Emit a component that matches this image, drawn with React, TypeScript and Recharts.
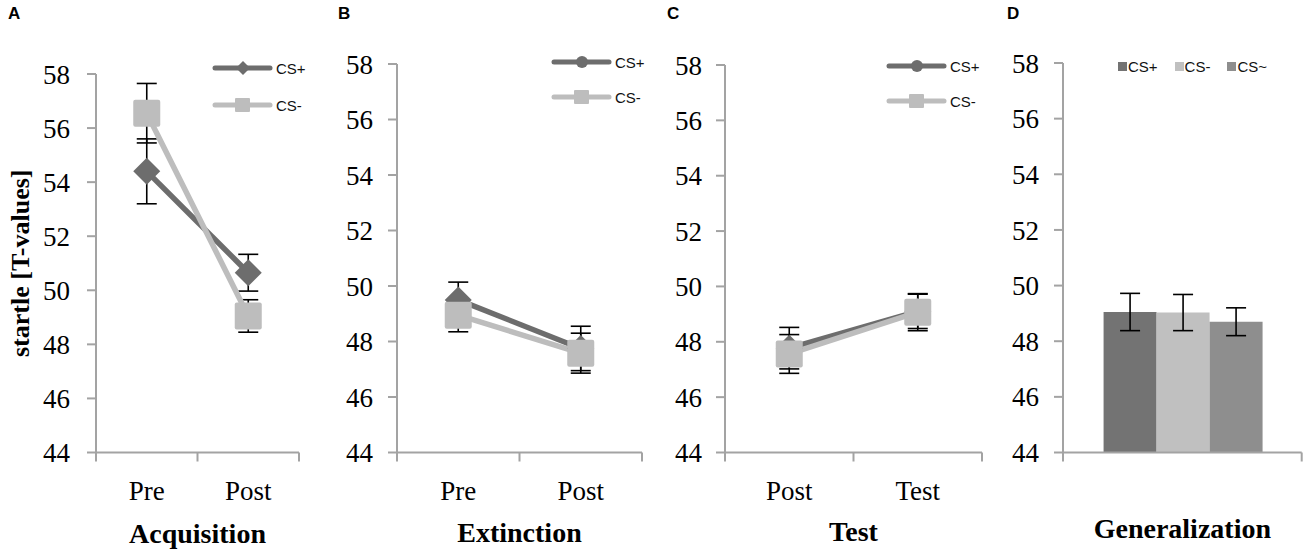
import React from "react";
import {
  LineChart,
  Line,
  BarChart,
  Bar,
  XAxis,
  YAxis,
  ErrorBar,
  Legend,
  Label,
} from "recharts";

// values (startle T-values, mean +/- SEM)
const acqPhases = ["Pre", "Post"];
const acqCsPlus = [54.4, 50.65];
const acqCsPlusErr = [1.2, 0.68];
const acqCsMinus = [56.55, 49.05];
const acqCsMinusErr = [1.1, 0.6];

const extPhases = ["Pre", "Post"];
const extCsPlus = [49.5, 47.75];
const extCsPlusErr = [0.64, 0.8];
const extCsMinus = [48.95, 47.58];
const extCsMinusErr = [0.6, 0.72];

const testPhases = ["Post", "Test"];
const testCsPlus = [47.77, 49.1];
const testCsPlusErr = [0.75, 0.62];
const testCsMinus = [47.56, 49.07];
const testCsMinusErr = [0.7, 0.67];

const genStimuli = ["CS+", "CS-", "CS~"];
const genMeans = [49.05, 49.03, 48.7];
const genErr = [0.67, 0.65, 0.5];

const yTicks = [44, 46, 48, 50, 52, 54, 56, 58];

const SERIF = '"Liberation Serif", "Times New Roman", serif';
const SANS = '"Liberation Sans", Arial, sans-serif';
const AXIS = "#a3a3a3";
const DARK = "#6d6d6d";
const LIGHT = "#bdbdbd";
const barColors = ["#737373", "#c0c0c0", "#8e8e8e"];
const TICK_GAP = 28;

const diamondDot = (props: any) => {
  const { cx, cy, index } = props;
  if (cx == null || cy == null) return null;
  const r = 13.5;
  return (
    <path
      key={`dia-${index}`}
      d={`M${cx},${cy - r}L${cx + r},${cy}L${cx},${cy + r}L${cx - r},${cy}Z`}
      fill={DARK}
    />
  );
};

const squareDot = (props: any) => {
  const { cx, cy, index } = props;
  if (cx == null || cy == null) return null;
  return <rect key={`sq-${index}`} x={cx - 13.5} y={cy - 13.5} width={27} height={27} rx={2} fill={LIGHT} />;
};

// category label plus Excel-style tick marks on the category boundaries
const makeCatTick = (showLabel: boolean) => (props: any) => {
  const { x, y, payload, index, visibleTicksCount, width } = props;
  const half = width / visibleTicksCount / 2;
  const axisY = y - TICK_GAP;
  return (
    <g>
      <line x1={x - half} x2={x - half} y1={axisY} y2={axisY + 9} stroke={AXIS} strokeWidth={2} />
      {index === visibleTicksCount - 1 ? (
        <line x1={x + half} x2={x + half} y1={axisY} y2={axisY + 9} stroke={AXIS} strokeWidth={2} />
      ) : null}
      {showLabel ? (
        <text x={x} y={y} dy="0.71em" textAnchor="middle" fontSize={27} fontFamily={SERIF} fill="#000">
          {payload.value}
        </text>
      ) : null}
    </g>
  );
};

function LineLegend({ payload, marker, rowH }: any) {
  return (
    <div>
      {(payload || []).map((p: any) => (
        <div key={p.value} style={{ display: "flex", alignItems: "center", height: rowH }}>
          <svg width={61} height={18}>
            <line x1={3} y1={9} x2={58} y2={9} stroke={p.color} strokeWidth={5} strokeLinecap="round" />
            {p.dataKey === "minus" ? (
              <rect x={23} y={2} width={15} height={14} rx={1} fill={p.color} />
            ) : marker === "diamond" ? (
              <path d="M31,2L38,9L31,16L24,9Z" fill={p.color} />
            ) : (
              <circle cx={31} cy={9} r={6} fill={p.color} />
            )}
          </svg>
          <span style={{ font: `15px ${SANS}`, color: "#111", marginLeft: 3 }}>{p.value}</span>
        </div>
      ))}
    </div>
  );
}

function BarLegend({ payload }: any) {
  return (
    <div style={{ display: "flex", alignItems: "center", height: 18 }}>
      {(payload || []).map((p: any) => (
        <div key={p.value} style={{ display: "flex", alignItems: "center", marginRight: 17 }}>
          <span style={{ width: 9, height: 9, background: p.color, marginRight: 1 }} />
          <span style={{ font: `15px ${SANS}`, color: "#111" }}>{p.value}</span>
        </div>
      ))}
    </div>
  );
}

const yTitle = (props: any) => {
  const vb = props.viewBox || {};
  const cy = (vb.y || 0) + (vb.height || 0) / 2;
  const x = 29;
  return (
    <text
      x={x}
      y={cy}
      transform={`rotate(-90, ${x}, ${cy})`}
      textAnchor="middle"
      fontFamily={SERIF}
      fontWeight="bold"
      fontSize={26}
      fill="#000"
    >
      startle [T-values]
    </text>
  );
};

function LinePanel(p: any) {
  const data = p.phases.map((ph: string, i: number) => ({
    phase: ph,
    plus: p.plus[i],
    plusErr: p.plusErr[i],
    minus: p.minus[i],
    minusErr: p.minusErr[i],
  }));
  return (
    <div style={{ position: "absolute", left: p.left, top: 0 }}>
      <LineChart
        width={p.width}
        height={556}
        data={data}
        margin={{ top: p.top, right: p.marginRight, bottom: 3.5, left: 0 }}
      >
        <XAxis
          dataKey="phase"
          scale="band"
          interval={0}
          tickLine={false}
          tickSize={0}
          tickMargin={TICK_GAP}
          height={100}
          axisLine={{ stroke: AXIS, strokeWidth: 2 }}
          tick={makeCatTick(true)}
        >
          <Label
            value={p.title}
            position="insideBottom"
            offset={p.titleOffset}
            fill="#000"
            fontSize={28}
            fontWeight="bold"
            fontFamily={SERIF}
          />
        </XAxis>
        <YAxis
          domain={[44, 58]}
          ticks={yTicks}
          allowDataOverflow
          width={p.yAxisWidth}
          tickSize={9}
          tickMargin={p.tickMargin}
          axisLine={{ stroke: AXIS, strokeWidth: 2 }}
          tickLine={{ stroke: AXIS, strokeWidth: 2 }}
          tick={{ fill: "#000", fontSize: 27, fontFamily: SERIF }}
        >
          {p.yLabel ? <Label content={yTitle} /> : null}
        </YAxis>
        <Legend
          layout="horizontal"
          verticalAlign="middle"
          align="center"
          wrapperStyle={{ left: p.legendLeft, top: p.legendTop, width: "auto", height: "auto" }}
          content={(lp: any) => <LineLegend {...lp} marker={p.legendMarker} rowH={p.legendRow} />}
        />
        <Line
          dataKey="plus"
          name="CS+"
          type="linear"
          stroke={DARK}
          strokeWidth={5.5}
          dot={diamondDot}
          activeDot={false}
          isAnimationActive={false}
        >
          <ErrorBar dataKey="plusErr" width={10} stroke="#000" strokeWidth={1.6} isAnimationActive={false} />
        </Line>
        <Line
          dataKey="minus"
          name="CS-"
          type="linear"
          stroke={LIGHT}
          strokeWidth={5.5}
          dot={squareDot}
          activeDot={false}
          isAnimationActive={false}
        >
          <ErrorBar dataKey="minusErr" width={10} stroke="#000" strokeWidth={1.6} isAnimationActive={false} />
        </Line>
      </LineChart>
    </div>
  );
}

function BarPanel() {
  const row: any = { group: "" };
  genStimuli.forEach((s, i) => {
    row[`m${i}`] = genMeans[i];
    row[`e${i}`] = genErr[i];
  });
  return (
    <div style={{ position: "absolute", left: 990, top: 0 }}>
      <BarChart
        width={315}
        height={556}
        data={[row]}
        barCategoryGap="17%"
        barGap={0}
        margin={{ top: 63, right: 3.3, bottom: 3.5, left: 0 }}
      >
        <XAxis
          dataKey="group"
          tickLine={false}
          tickSize={0}
          tickMargin={TICK_GAP}
          height={100}
          axisLine={{ stroke: AXIS, strokeWidth: 2 }}
          tick={makeCatTick(false)}
        >
          <Label
            value="Generalization"
            position="insideBottom"
            offset={14.5}
            fill="#000"
            fontSize={28}
            fontWeight="bold"
            fontFamily={SERIF}
          />
        </XAxis>
        <YAxis
          domain={[44, 58]}
          ticks={yTicks}
          allowDataOverflow
          width={73}
          tickSize={9}
          tickMargin={15}
          axisLine={{ stroke: AXIS, strokeWidth: 2 }}
          tickLine={{ stroke: AXIS, strokeWidth: 2 }}
          tick={{ fill: "#000", fontSize: 27, fontFamily: SERIF }}
        />
        <Legend
          layout="horizontal"
          verticalAlign="middle"
          align="center"
          wrapperStyle={{ left: 128, top: 57, width: "auto", height: "auto" }}
          content={(lp: any) => <BarLegend {...lp} />}
        />
        {genStimuli.map((s, i) => (
          <Bar key={s} dataKey={`m${i}`} name={s} fill={barColors[i]} isAnimationActive={false}>
            <ErrorBar dataKey={`e${i}`} width={10} stroke="#000" strokeWidth={1.6} isAnimationActive={false} />
          </Bar>
        ))}
      </BarChart>
    </div>
  );
}

const letter = (t: string, left: number) => (
  <div
    style={{
      position: "absolute",
      left,
      top: 5,
      font: `bold 17px ${SANS}`,
      lineHeight: "17px",
      color: "#000",
    }}
  >
    {t}
  </div>
);

export default function App() {
  return (
    <div style={{ position: "absolute", left: 0, top: 0, width: 1305, height: 556, background: "#fff", overflow: "hidden" }}>
      <LinePanel
        left={0}
        width={320}
        yAxisWidth={96}
        marginRight={21}
        top={74}
        tickMargin={17}
        phases={acqPhases}
        plus={acqCsPlus}
        plusErr={acqCsPlusErr}
        minus={acqCsMinus}
        minusErr={acqCsMinusErr}
        title="Acquisition"
        titleOffset={9.5}
        legendLeft={212}
        legendTop={49.5}
        legendRow={37}
        legendMarker="diamond"
        yLabel
      />
      <LinePanel
        left={330}
        width={330}
        yAxisWidth={67}
        marginRight={18}
        top={64}
        tickMargin={15}
        phases={extPhases}
        plus={extCsPlus}
        plusErr={extCsPlusErr}
        minus={extCsMinus}
        minusErr={extCsMinusErr}
        title="Extinction"
        titleOffset={10.5}
        legendLeft={221}
        legendTop={44.5}
        legendRow={35}
        legendMarker="circle"
      />
      <LinePanel
        left={660}
        width={330}
        yAxisWidth={65}
        marginRight={8}
        top={65}
        tickMargin={14}
        phases={testPhases}
        plus={testCsPlus}
        plusErr={testCsPlusErr}
        minus={testCsMinus}
        minusErr={testCsMinusErr}
        title="Test"
        titleOffset={11.5}
        legendLeft={226}
        legendTop={48.5}
        legendRow={35}
        legendMarker="circle"
      />
      <BarPanel />
      {letter("A", 8)}
      {letter("B", 338)}
      {letter("C", 667)}
      {letter("D", 1007)}
    </div>
  );
}
